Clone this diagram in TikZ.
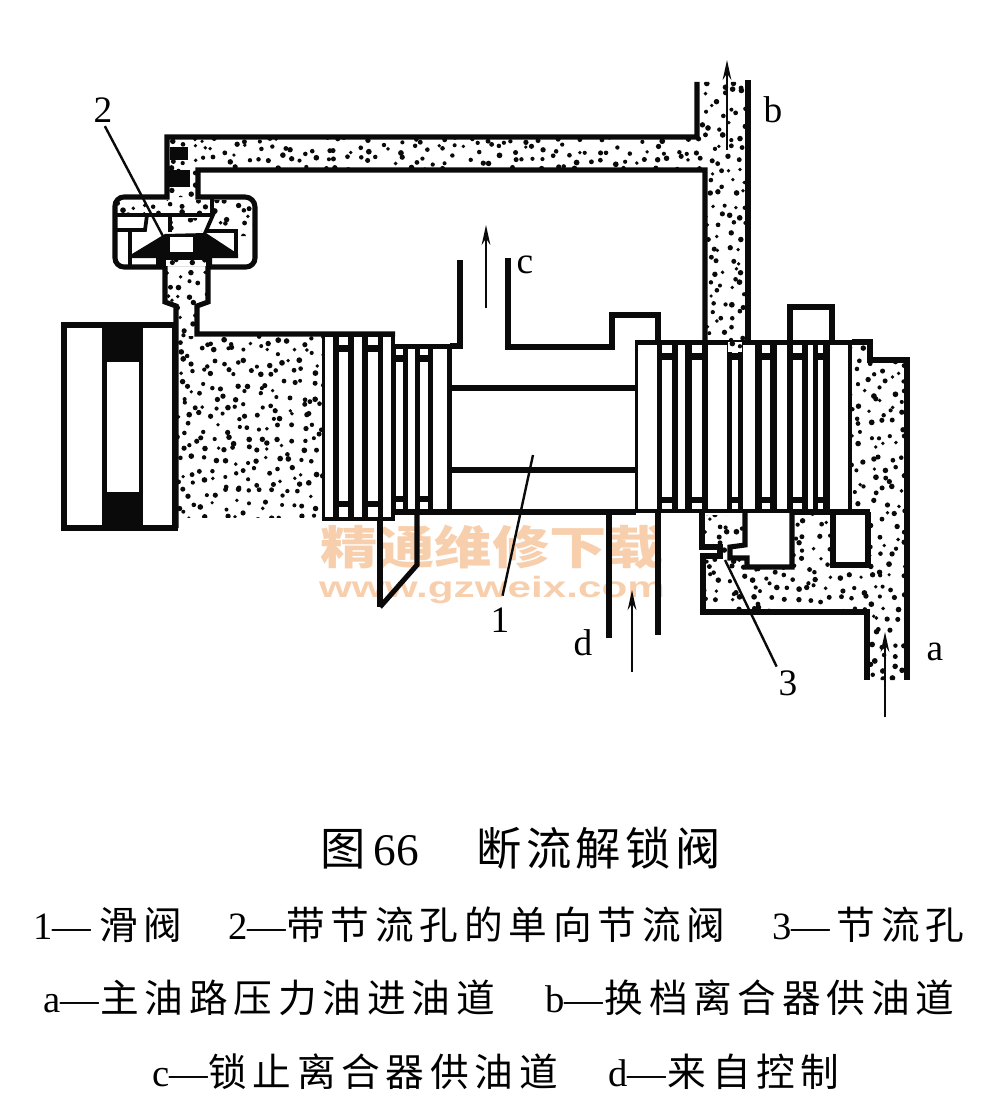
\documentclass[tikz,border=0pt]{standalone}
\usepackage{fontspec}
\usetikzlibrary{arrows.meta}
\setmainfont{Liberation Serif}
\newfontfamily\cjk[LetterSpace=15]{Noto Sans CJK SC}
\newfontfamily\cjkhead[LetterSpace=10]{Noto Sans CJK SC}
\newfontfamily\wmcjk{Noto Sans CJK SC}
\newfontfamily\wmlat{Liberation Sans}
\definecolor{wm}{HTML}{F8CFAC}
\definecolor{ink}{HTML}{0A0A0A}
\tikzset{
  wall/.style={draw=ink,line width=3.8pt,line join=miter,line cap=butt},
  thinwall/.style={draw=ink,line width=2.8pt},
  leader/.style={draw=ink,line width=1.8pt},
  flow/.style={draw=ink,line width=1.8pt,-{Stealth[length=15pt,width=6.5pt]}},
  lab/.style={inner sep=0pt,font=\fontsize{28}{28}\selectfont},
  captext/.style={inner sep=0pt,anchor=west,font=\fontsize{29}{29}\selectfont},
}
\newcommand{\stip}[6]{% seed, clip path, x0,y0,x1,y1
  \begin{scope}
    \clip #2;
    \pgfmathsetseed{#1}
    \pgfmathtruncatemacro{\xnext}{#3+11}
    \pgfmathtruncatemacro{\ynext}{#4+11}
    \foreach \xa in {#3,\xnext,...,#5}{
      \foreach \ya in {#4,\ynext,...,#6}{
        \pgfmathsetmacro{\px}{\xa+rnd*10}
        \pgfmathsetmacro{\py}{\ya+rnd*10}
        \pgfmathsetmacro{\pr}{1.8+rnd*1.1}
        \fill[ink] (\px,\py) circle[radius=\pr*0.75pt];
      }
    }
  \end{scope}
}
\newcommand{\cellw}[4]{\fill[white] (#1,#2) rectangle (#3,#4);}
\begin{document}
\begin{tikzpicture}[x=0.75pt,y=-0.75pt]
\useasboundingbox (0,0) rectangle (984,1120);
\fill[white] (0,0) rectangle (984,1120);
% watermark
\node[inner sep=0pt,text=wm,font=\wmcjk\bfseries\fontsize{43}{43}\selectfont] (wma) at (492,547) {\scalebox{1}[0.8]{精通维修下载}};
\node[inner sep=0pt,text=wm,font=\wmlat\bfseries\fontsize{22}{22}\selectfont] (wmb) at (492,590) {\scalebox{1.44}[1]{www.gzweix.com}};
% stippling
\stip{11}{(168,138)--(697,138)--(697,82)--(748,82)--(748,342)--(705,342)--(705,170)--(198,170)--(198,197)--(168,197)--cycle}{166}{78}{750}{345}
\stip{12}{(116,200)--(254,200)--(254,236)--(238,236)--(238,228)--(206,228)--(213,214)--(116,214)--cycle}{114}{199}{256}{238}
\stip{13}{(172,218)--(212,218)--(207,231)--(172,231)--cycle}{170}{217}{214}{232}
\stip{14}{(166,258)--(208,258)--(208,302)--(195,306)--(195,338)--(178,338)--(178,304)--(166,302)--cycle}{164}{256}{210}{340}
\stip{15}{(176,336)--(322,336)--(322,517)--(176,517)--cycle}{176}{335}{324}{518}
\stip{16}{(850,345)--(868,345)--(868,362)--(905,362)--(905,680)--(869,680)--(869,610)--(704,610)--(704,558)--(722,558)--(722,548)--(704,548)--(704,515)--(745,515)--(745,545)--(730,548)--(730,560)--(747,560)--(747,569)--(794,569)--(794,513)--(831,513)--(831,567)--(868,567)--(868,513)--(850,511)--cycle}{702}{343}{907}{682}
% left piston
\draw[wall] (64,325) rectangle (175,528);
\fill[ink] (102,325) rectangle (143,528);
\fill[white] (107,362) rectangle (139,492);
% top channel and valve housing
\draw[wall] (748,80)--(748,342);
\draw[wall] (697,82)--(697,137)--(167,137)--(167,197)--(124,197)
  arc[start angle=90,end angle=180,radius=6.75pt]--(115,258)
  arc[start angle=180,end angle=270,radius=6.75pt]--(165,267)--(165,302)--(176,306)--(176,528);
\draw[wall] (705,342)--(705,170)--(198,170)--(198,197)--(245,197)
  arc[start angle=90,end angle=0,radius=7.5pt]--(255,258)
  arc[start angle=0,end angle=-90,radius=6.75pt]--(208,267)--(208,302)--(197,306)--(197,334)--(395,334);
% valve internals
\draw[thinwall] (116,215)--(213,215)--(206,231)--(236,231)--(236,256);
\draw[thinwall] (147,215)--(145,230)--(116,230);
\draw[thinwall] (130,230)--(130,266);
\draw[thinwall] (212,215)--(212,197);
\draw[thinwall] (170,215)--(170,232);
\fill[ink] (132,254)--(165,234)--(206,233)--(238,254)--(238,258)--(212,258)--(212,266)--(156,266)--(156,258)--(132,258)--cycle;
\fill[white] (170,237) rectangle (193,252);
\fill[white] (166,260) rectangle (206,266);
\stip{17}{(166,260)--(206,260)--(206,266)--(166,266)--cycle}{164}{259}{208}{268}
% black plugs in channel corner
\fill[ink] (170,147) rectangle (188,160);
\fill[ink] (168,170) rectangle (190,187);
% left sleeve block
\fill[ink] (322,332) rectangle (395,521);
\foreach \a/\b in {325/333,354/362,383/391}{\cellw{\a}{337}{\b}{517}}
\foreach \a/\b in {339/348,368/378}{
  \cellw{\a}{337}{\b}{345}\cellw{\a}{352}{\b}{501}\cellw{\a}{507}{\b}{517}}
\fill[ink] (393,344) rectangle (452,514);
\foreach \a/\b in {408/415,433/447}{\cellw{\a}{349}{\b}{509}}
\foreach \a/\b in {396/403,420/428}{
  \cellw{\a}{349}{\b}{355}\cellw{\a}{362}{\b}{496}\cellw{\a}{502}{\b}{509}}
% spool centre
\draw[wall] (452,388)--(636,388);
\draw[wall] (452,470)--(636,470);
\draw[wall] (393,512)--(636,512);
% port c
\draw[wall] (460,260)--(460,346)--(450,346);
\draw[wall] (508,258)--(508,347)--(612,347)--(612,315)--(658,315)--(658,342);
% right sleeve block
\fill[ink] (635,340) rectangle (852,513);
\foreach \a/\b in {638/657,678/685,708/727,743/755,777/787,808/813,830/848}{\cellw{\a}{345}{\b}{509}}
\foreach \a/\b in {662/672,692/702,732/738,762/770,793/802,818/823}{
  \cellw{\a}{345}{\b}{353}\cellw{\a}{360}{\b}{497}\cellw{\a}{503}{\b}{509}}
\cellw{728}{342}{742}{352}
\stip{18}{(728,340)--(742,340)--(742,352)--(728,352)--cycle}{727}{339}{743}{353}
\draw[wall] (790,342)--(790,307)--(832,307)--(832,342);
\draw[wall] (852,342)--(870,342)--(870,360)--(907,360)--(907,680);
% lower passages
\draw[wall] (702,512)--(702,547)--(720,547)--(720,556)--(703,556)--(703,612)--(867,612)--(867,680);
\draw[wall] (745,512)--(745,545)--(730,547)--(730,558)--(747,558)--(747,567)--(792,567)--(792,512);
\draw[wall] (833,512)--(833,565)--(868,565)--(868,512);
\draw[wall] (792,512)--(870,512);
% port d and left pipe
\draw[wall] (609,512)--(609,638);
\draw[wall] (658,512)--(658,635);
\draw[wall] (380,520)--(380,607);
\draw[wall] (417,512)--(417,565)--(380,607);
% labels and leaders
\node[lab] (n2) at (103,110) {2};
\node[lab] (n1) at (500,620) {1};
\node[lab] (n3) at (788,683) {3};
\node[lab] (la) at (935,652) {a};
\node[lab] (lb) at (773,110) {b};
\node[lab] (lc) at (525,265) {c};
\node[lab] (ld) at (583,643) {d};
\coordinate (p2) at (165,240);
\coordinate (p1) at (533,455);
\coordinate (p3) at (725,560);
\draw[leader,shorten <=3pt] (n2.south)--(p2);
\draw[leader,shorten >=9pt] (p1)--(n1.north);
\draw[leader,shorten >=3pt] (p3)--(n3.north west);
\coordinate (as) at (885,717); \coordinate (ae) at (885,632);
\coordinate (bs) at (727,150); \coordinate (be) at (727,60);
\coordinate (cs) at (486,308); \coordinate (ce) at (486,225);
\coordinate (ds) at (632,672); \coordinate (de) at (632,590);
\draw[flow] (as)--(ae);
\draw[flow] (bs)--(be);
\draw[flow] (cs)--(ce);
\draw[flow] (ds)--(de);
% captions
\node[inner sep=0pt,anchor=west,font=\fontsize{34}{34}\selectfont] (t0) at (320,848) {{\cjkhead 图}\hspace{6pt}66\hspace{43pt}{\cjkhead 断流解锁阀}};
\node[captext] (t1) at (33,925) {1—\hspace{6pt}{\cjk 滑阀}};
\node[captext] (t2) at (228,925) {2—{\cjk 带节流孔的单向节流阀}};
\node[captext] (t3) at (772,925) {3—\hspace{5pt}{\cjk 节流孔}};
\node[captext] (t4) at (43,998) {a—\hspace{1pt}{\cjk 主油路压力油进油道}};
\node[captext] (t5) at (545,998) {b—\hspace{1pt}{\cjk 换档离合器供油道}};
\node[captext] (t6) at (152,1072) {c—{\cjk 锁止离合器供油道}};
\node[captext] (t7) at (608,1072) {d—\hspace{1pt}{\cjk 来自控制}};
\end{tikzpicture}
\end{document}
